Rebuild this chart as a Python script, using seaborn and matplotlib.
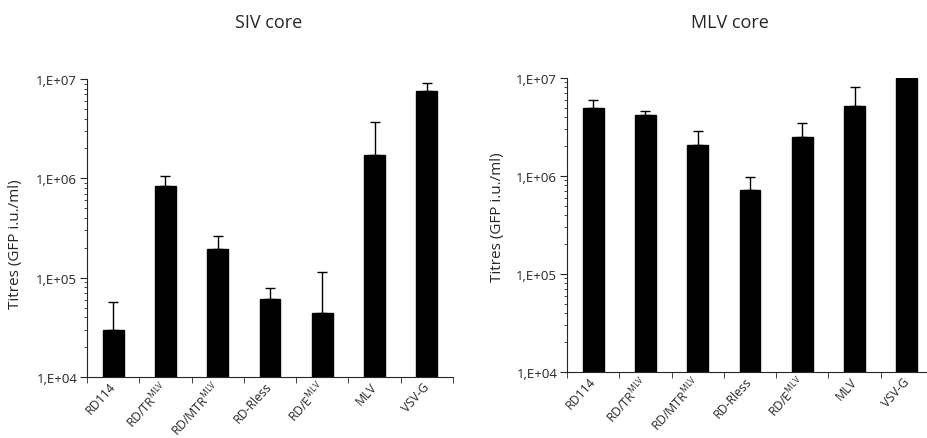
import numpy as np
import pandas as pd
import seaborn as sns
import matplotlib.pyplot as plt
from matplotlib.ticker import FixedLocator, FixedFormatter, LogLocator, NullFormatter

# data
labels = ["RD114", r"RD/TR$^{\rm MLV}$", r"RD/MTR$^{\rm MLV}$", "RD-Rless",
          r"RD/E$^{\rm MLV}$", "MLV", "VSV-G"]
siv_titres = [3.0e4, 8.3e5, 1.95e5, 6.1e4, 4.4e4, 1.73e6, 7.5e6]
siv_err = [2.7e4, 2.3e5, 6.5e4, 1.8e4, 6.9e4, 1.97e6, 1.7e6]
mlv_titres = [5.0e6, 4.2e6, 2.05e6, 7.2e5, 2.5e6, 5.2e6, 1.0e7]
mlv_err = [0.9e6, 0.4e6, 0.85e6, 2.5e5, 1.0e6, 2.9e6, 0.0]
ytick_vals = [1e4, 1e5, 1e6, 1e7]
ytick_labels = ["1,E+04", "1,E+05", "1,E+06", "1,E+07"]

sns.set_style("ticks")
plt.rcParams["font.family"] = ["Open Sans", "DejaVu Sans"]
plt.rcParams["mathtext.fontset"] = "custom"
plt.rcParams["mathtext.rm"] = "Open Sans"


def titre_panel(ax, values, errors, title, title_x):
    df = pd.DataFrame({"vector": labels, "titre": values})
    ax.set_yscale("log")
    sns.barplot(data=df, x="vector", y="titre", color="black", width=0.4,
                saturation=1, edgecolor="black", ax=ax)
    x = np.arange(len(values))
    ax.errorbar(x, values, yerr=[np.zeros(len(values)), errors], fmt="none",
                ecolor="black", elinewidth=1, capsize=3.5, capthick=1)
    ax.set_ylim(1e4, 1e7)
    ax.set_xlim(-0.5, len(values) - 0.5)
    ax.yaxis.set_major_locator(FixedLocator(ytick_vals))
    ax.yaxis.set_major_formatter(FixedFormatter(ytick_labels))
    ax.yaxis.set_minor_locator(LogLocator(base=10, subs=np.arange(2, 10)))
    ax.yaxis.set_minor_formatter(NullFormatter())
    ax.tick_params(axis="y", which="major", length=5, width=0.8, labelsize=9.5, pad=2)
    ax.tick_params(axis="y", which="minor", length=2.5, width=0.6)
    ax.set_xticks(x)
    ax.set_xticklabels(labels, rotation=48, ha="right", va="center",
                       rotation_mode="anchor", fontsize=8.8)
    ax.tick_params(axis="x", which="major", length=0, pad=5)
    ax.set_xticks(np.arange(-0.5, len(values), 1), minor=True)
    ax.tick_params(axis="x", which="minor", length=4, width=0.6)
    ax.set_xlabel("")
    ax.set_ylabel("Titres (GFP i.u./ml)", fontsize=11)
    sns.despine(ax=ax)
    for sp in ("left", "bottom"):
        ax.spines[sp].set_linewidth(0.8)
    ax.figure.text(title_x, 1 - 23 / 439, title, ha="center", va="center", fontsize=13)


fig = plt.figure(figsize=(9.27, 4.39), dpi=100)
ax1 = fig.add_axes([87 / 927, 1 - 378 / 439, 366 / 927, 298 / 439])
ax2 = fig.add_axes([567 / 927, 1 - 373 / 439, 366 / 927, 294 / 439])

titre_panel(ax1, siv_titres, siv_err, "SIV core", 269 / 927)
titre_panel(ax2, mlv_titres, mlv_err, "MLV core", 730 / 927)
ax1.yaxis.set_label_coords(-0.175, 0.45)
ax2.yaxis.set_label_coords(-0.17, 0.53)

fig.savefig("out.png", dpi=100)
